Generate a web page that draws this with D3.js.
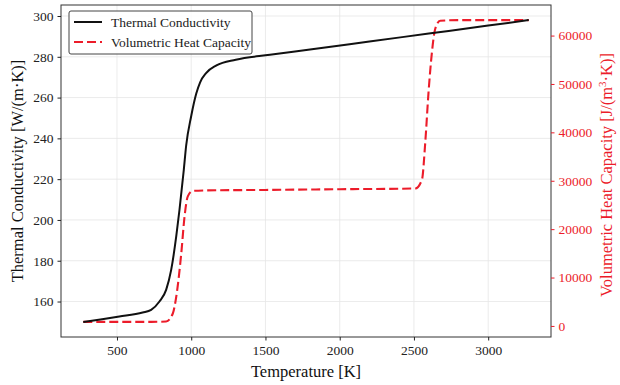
<!DOCTYPE html>
<html>
<head>
<meta charset="utf-8">
<script src="https://cdn.jsdelivr.net/npm/d3@7"></script>
<style>
  html, body { margin: 0; padding: 0; background: #fff; }
  svg { display: block; font-family: "Liberation Serif", "Times New Roman", serif; }
  svg text { font-family: "Liberation Serif", "Times New Roman", serif !important; }
</style>
</head>
<body>
<svg id="chart" width="620" height="385"></svg>
<script>
// ---- data ----
const condTemps = [273, 400, 516, 673, 730, 786, 831, 865, 899, 921, 950, 966, 1000, 1034, 1060, 1100, 1170, 1300, 1530, 1800, 2200, 2600, 3000, 3273];
const conductivity = [150, 151.3, 152.6, 154.6, 155.9, 160, 165.7, 175.5, 191.9, 205, 224.6, 236.5, 251, 262, 267.5, 272, 275.8, 278.6, 281, 283.6, 287.5, 291.4, 295.3, 298];
const capTemps = [273, 500, 700, 831, 876, 899, 933, 955, 977, 1011, 1100, 1500, 2000, 2509, 2554, 2576, 2598, 2621, 2643, 2677, 2800, 3273];
const heatCapacity = [830, 830, 840, 900, 2570, 6000, 15000, 22600, 26760, 27900, 28000, 28100, 28250, 28400, 30230, 37840, 48200, 56500, 61350, 63070, 63200, 63200];
const xTicks = [500, 1000, 1500, 2000, 2500, 3000];
const leftTicks = [160, 180, 200, 220, 240, 260, 280, 300];
const rightTicks = [0, 10000, 20000, 30000, 40000, 50000, 60000];
const seriesNames = ["Thermal Conductivity", "Volumetric Heat Capacity"];

const W = 620, H = 385;
const m = {left: 61, right: 69, top: 5, bottom: 48};
const iw = W - m.left - m.right, ih = H - m.top - m.bottom;
const RED = "#ec1c2a";
const SERIF = "'Liberation Serif', 'Times New Roman', serif";
const DASH = "9,4";

function padExtent(arr) {
  const [a, b] = d3.extent(arr); const p = (b - a) * 0.05; return [a - p, b + p];
}

const svg = d3.select("#chart");
const g = svg.append("g").attr("transform", `translate(${m.left},${m.top})`);

const x = d3.scaleLinear().domain(padExtent(condTemps)).range([0, iw]);
const yL = d3.scaleLinear().domain(padExtent(conductivity)).range([ih, 0]);
const yR = d3.scaleLinear().domain(padExtent(heatCapacity)).range([ih, 0]);

// grid
g.append("g").selectAll("line").data(xTicks).join("line")
  .attr("x1", d => x(d)).attr("x2", d => x(d)).attr("y1", 0).attr("y2", ih)
  .attr("stroke", "#e6e6e6").attr("stroke-width", 0.8);
g.append("g").selectAll("line").data(leftTicks).join("line")
  .attr("y1", d => yL(d)).attr("y2", d => yL(d)).attr("x1", 0).attr("x2", iw)
  .attr("stroke", "#e6e6e6").attr("stroke-width", 0.8);

// lines
const lineK = d3.line().x((d, i) => x(condTemps[i])).y(d => yL(d)).curve(d3.curveMonotoneX);
const lineC = d3.line().x((d, i) => x(capTemps[i])).y(d => yR(d)).curve(d3.curveMonotoneX);

g.append("path").datum(heatCapacity).attr("d", lineC)
  .attr("fill", "none").attr("stroke", RED).attr("stroke-width", 2.1)
  .attr("stroke-dasharray", DASH);
g.append("path").datum(conductivity).attr("d", lineK)
  .attr("fill", "none").attr("stroke", "#111").attr("stroke-width", 2);

// frame
g.append("rect").attr("x", 0).attr("y", 0).attr("width", iw).attr("height", ih)
  .attr("fill", "none").attr("stroke", "#333").attr("stroke-width", 1);

// axes
function styleAxis(sel, color) {
  sel.attr("font-family", SERIF).attr("font-size", 13.5);
  sel.select(".domain").remove();
  sel.selectAll(".tick line").attr("stroke", color).attr("stroke-width", 1);
  sel.selectAll(".tick text").attr("fill", color);
}
g.append("g").attr("transform", `translate(0,${ih})`)
  .call(d3.axisBottom(x).tickValues(xTicks).tickSize(3.5).tickPadding(5).tickFormat(d3.format("d")))
  .call(s => styleAxis(s, "#222"));
g.append("g")
  .call(d3.axisLeft(yL).tickValues(leftTicks).tickSize(3.5).tickPadding(4).tickFormat(d3.format("d")))
  .call(s => styleAxis(s, "#222"));
g.append("g").attr("transform", `translate(${iw},0)`)
  .call(d3.axisRight(yR).tickValues(rightTicks).tickSize(3.5).tickPadding(4).tickFormat(d3.format("d")))
  .call(s => styleAxis(s, RED));

// axis labels
svg.append("text").attr("x", m.left + iw / 2).attr("y", 377)
  .attr("text-anchor", "middle").attr("font-size", 16.5).attr("fill", "#111")
  .text("Temperature [K]");
svg.append("text").attr("transform", `translate(23,${m.top + ih / 2}) rotate(-90)`)
  .attr("text-anchor", "middle").attr("font-size", 16.5).attr("fill", "#111")
  .text("Thermal Conductivity [W/(m·K)]");
const rl = svg.append("text").attr("transform", `translate(612,${m.top + ih / 2 + 4}) rotate(-90)`)
  .attr("text-anchor", "middle").attr("font-size", 16.5).attr("fill", RED);
rl.append("tspan").text("Volumetric Heat Capacity [J/(m");
rl.append("tspan").attr("baseline-shift", "super").attr("font-size", 11).text("3");
rl.append("tspan").text("·K)]");

// legend
const lg = svg.append("g").attr("transform", "translate(69,11)");
lg.append("rect").attr("width", 183).attr("height", 43).attr("rx", 2)
  .attr("fill", "#fff").attr("fill-opacity", 0.85).attr("stroke", "#444").attr("stroke-width", 1);
const rows = [{y: 11, color: "#111", dash: null}, {y: 31, color: RED, dash: DASH}];
rows.forEach((r, i) => {
  lg.append("line").attr("x1", 5).attr("x2", 33).attr("y1", r.y).attr("y2", r.y)
    .attr("stroke", r.color).attr("stroke-width", 2).attr("stroke-dasharray", r.dash);
  lg.append("text").attr("x", 42).attr("y", r.y + 4.5).attr("font-size", 13.5)
    .attr("fill", "#222").text(seriesNames[i]);
});
</script>
</body>
</html>
